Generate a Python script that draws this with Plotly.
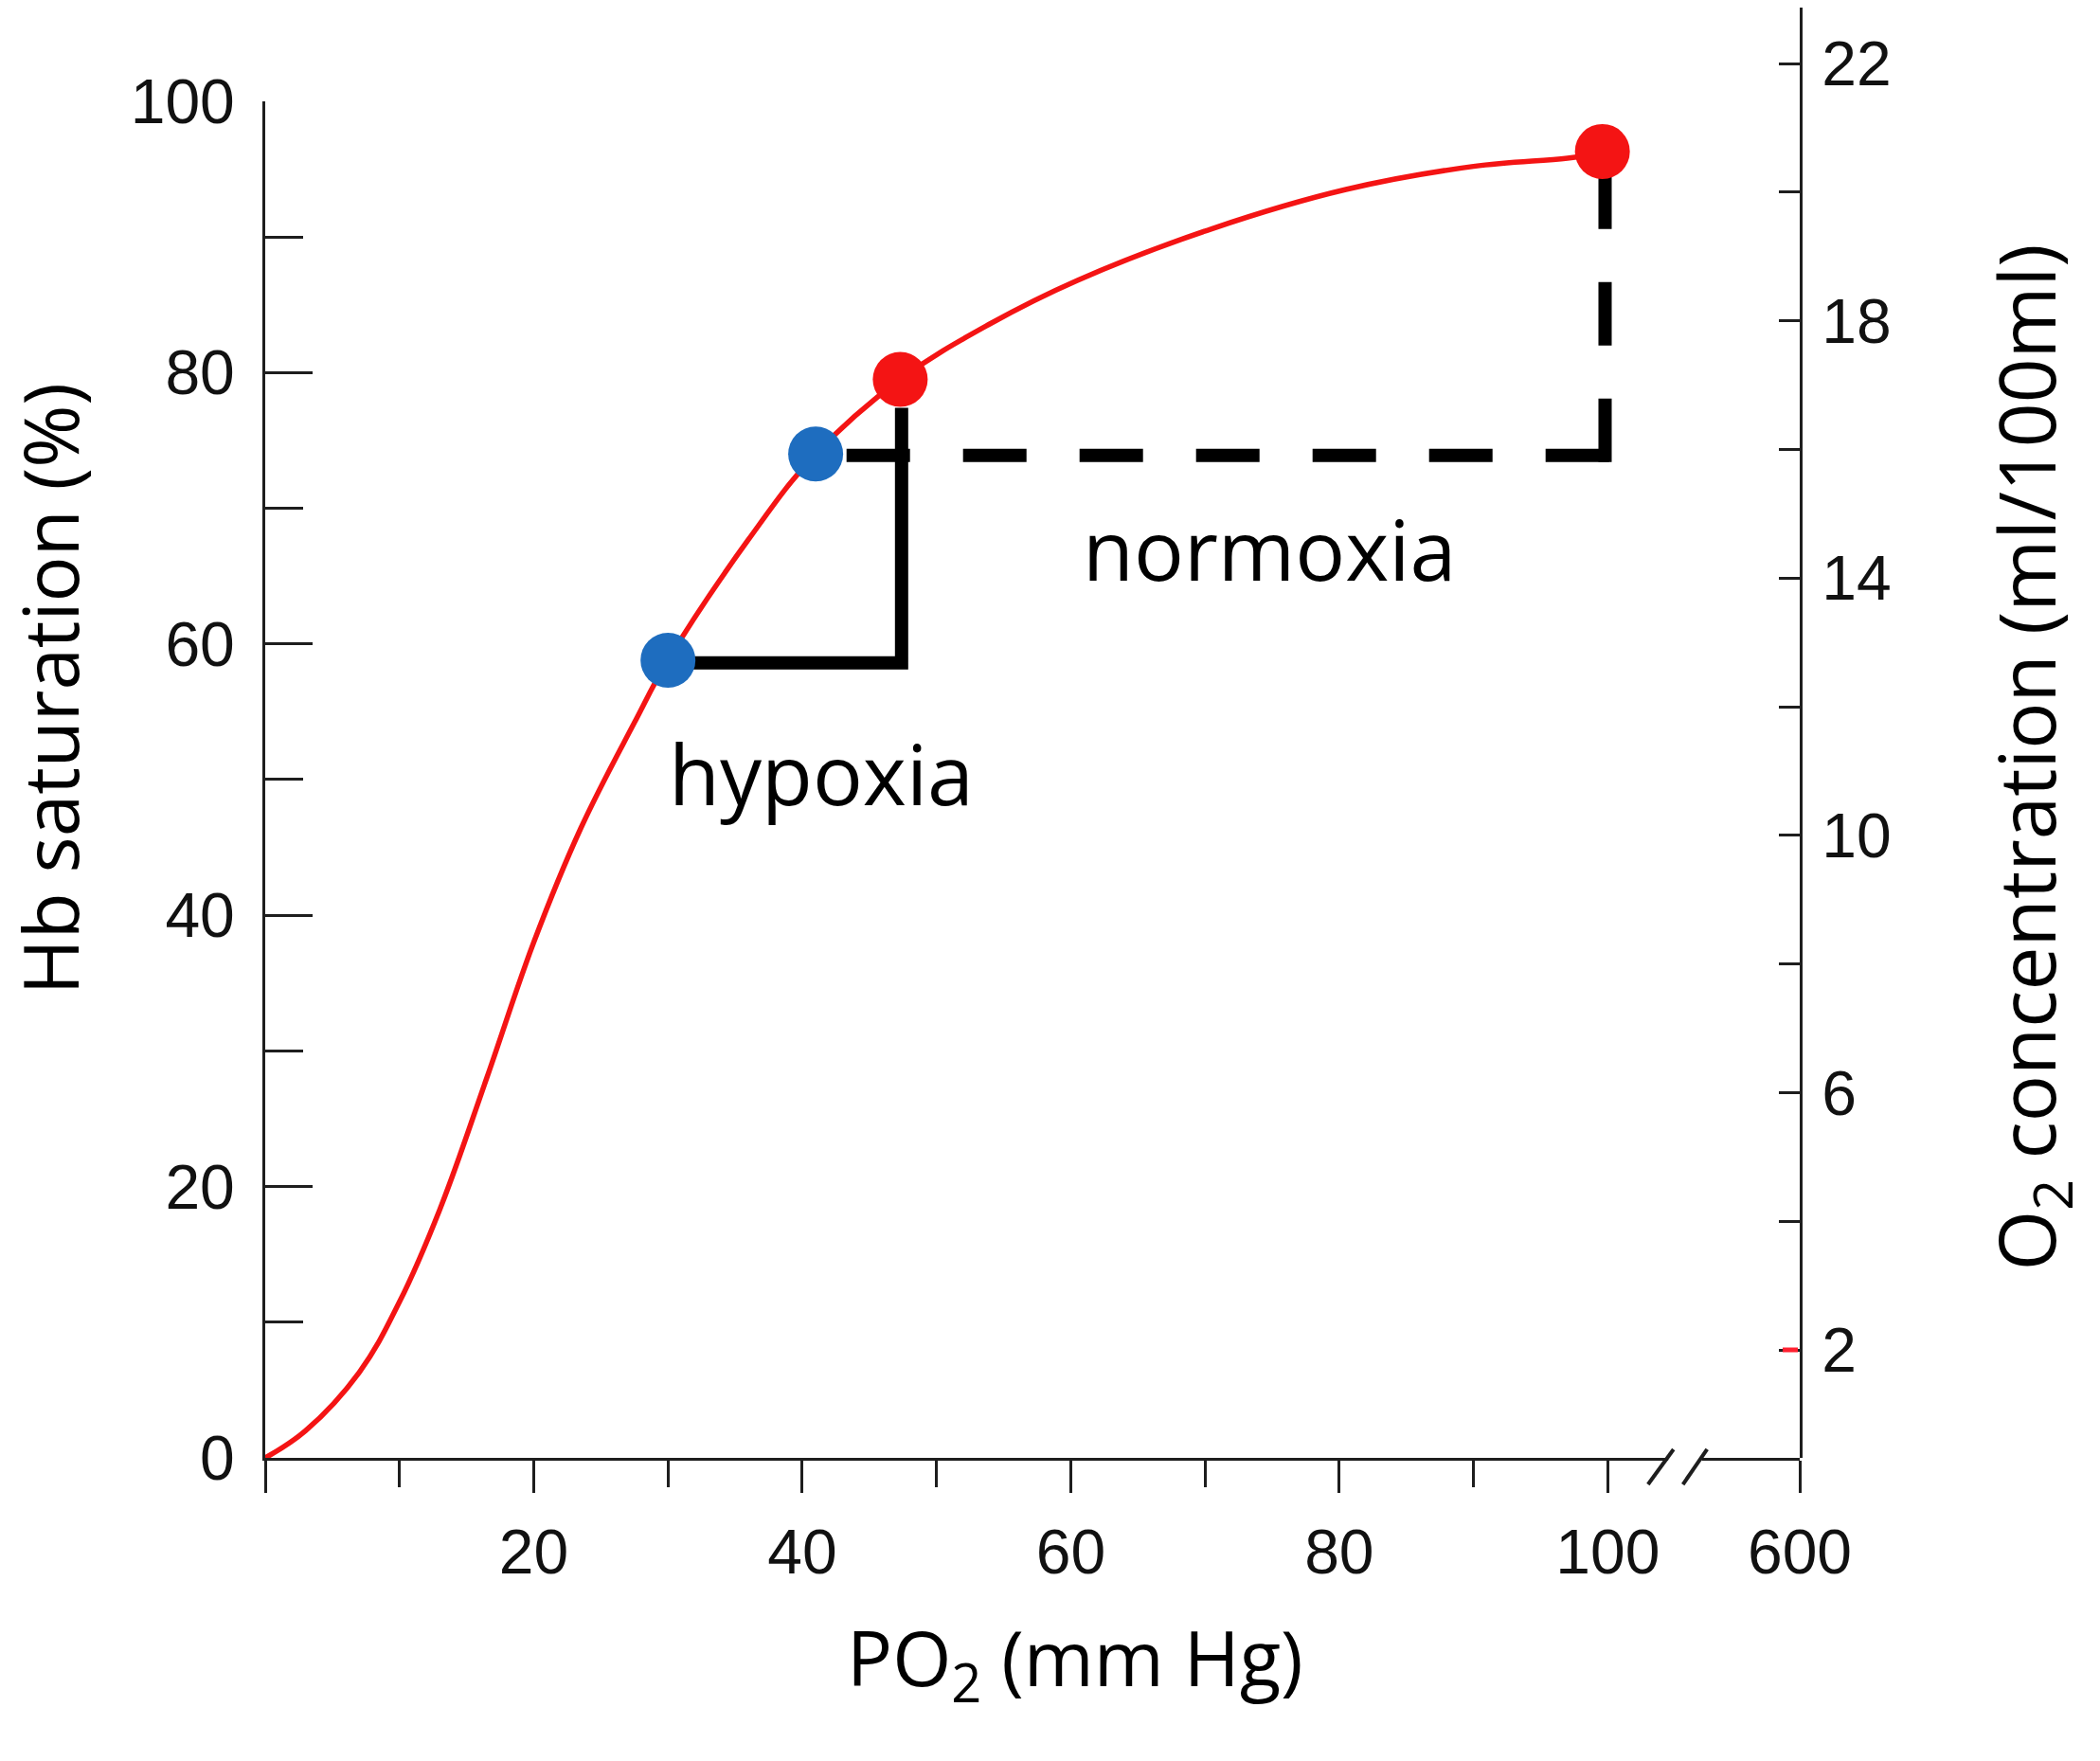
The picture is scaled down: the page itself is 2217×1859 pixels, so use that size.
# Oxygen-haemoglobin dissociation curve with hypoxia / normoxia markers
# Two y axes: Hb saturation (%) on the left, O2 concentration on the right.

import plotly.graph_objects as go

# --- data ---
po2 = [0, 3, 7, 10, 13, 16.5, 20, 23.5, 27.5, 30, 36, 41, 47.3, 54, 60.5, 70.5, 80.5, 90, 97, 100]
saturation = [0, 2, 6.3, 11.5, 18.3, 28, 38, 46.4, 54.2, 58.8, 67.7, 74, 79.5, 83.6, 86.8, 90.6, 93.5, 95.2, 95.8, 96.2]

# points on the curve
blue_x = [30, 41]
blue_y = [58.8, 74.0]
red_x = [47.3, 99.6]
red_y = [79.5, 96.3]

# hypoxia bracket (solid) and normoxia bracket (dashed)
hypoxia_x = [30, 47.4, 47.4]
hypoxia_y = [58.6, 58.6, 77.4]
normoxia_h_x = [43.3, 100.3]
normoxia_h_y = [73.9, 73.9]
normoxia_v_x = [99.8, 99.8]
normoxia_v_y = [73.4, 96.3]

# axis ticks
x_max = 114.3  # position of the "600" tick after the axis break
x_tickvals = [0, 20, 40, 60, 80, 100, x_max]
x_ticktext = ["", "20", "40", "60", "80", "100", "600"]
x_minor = [10, 30, 50, 70, 90]
y_tickvals = [0, 20, 40, 60, 80, 100]
y_minor = [10, 30, 50, 70, 90]
y2_tickvals = [2, 6, 10, 14, 18, 22]
y2_minor = [4, 8, 12, 16, 20]

RED = "#f41414"
BLUE = "#1e6dbf"
AXIS = "#1e1e1e"
TICK_FONT = dict(family="Liberation Sans, Arial, sans-serif", size=66, color="#111111")
TEXT_FONT = "Open Sans, sans-serif"

fig = go.Figure()

# the dissociation curve
fig.add_trace(go.Scatter(x=po2, y=saturation, mode="lines",
                         line=dict(color=RED, width=5.5, shape="spline", smoothing=1.1),
                         hoverinfo="skip"))

# brackets
fig.add_trace(go.Scatter(x=hypoxia_x, y=hypoxia_y, mode="lines",
                         line=dict(color="black", width=14)))
fig.add_trace(go.Scatter(x=normoxia_h_x, y=normoxia_h_y, mode="lines",
                         line=dict(color="black", width=14, dash="67px,56px")))
fig.add_trace(go.Scatter(x=normoxia_v_x, y=normoxia_v_y, mode="lines",
                         line=dict(color="black", width=14, dash="67px,56px")))

# dots on top
fig.add_trace(go.Scatter(x=blue_x, y=blue_y, mode="markers", cliponaxis=False,
                         marker=dict(color=BLUE, size=58, line=dict(width=0))))
fig.add_trace(go.Scatter(x=red_x, y=red_y, mode="markers", cliponaxis=False,
                         marker=dict(color=RED, size=58, line=dict(width=0))))

# empty trace so the right axis gets drawn
fig.add_trace(go.Scatter(x=[None], y=[None], yaxis="y2", showlegend=False))

# axis break "//" on the x axis (paper coords from data units)
def px(v):
    return v / x_max

shapes = [
    # white gap in the axis line between the slashes
    dict(type="rect", xref="paper", yref="paper", x0=px(104.5), x1=px(107.0),
         y0=-0.003, y1=0.003, fillcolor="white", line=dict(width=0), layer="above"),
    dict(type="line", xref="paper", yref="paper", x0=px(103.0), x1=px(104.9),
         y0=-0.0183, y1=0.0059, line=dict(color=AXIS, width=4)),
    dict(type="line", xref="paper", yref="paper", x0=px(105.6), x1=px(107.4),
         y0=-0.0183, y1=0.0059, line=dict(color=AXIS, width=4)),
    # the red tick at "2" on the right axis
    dict(type="line", xref="paper", yref="y2", x0=1 - 18 / 1620, x1=1 - 2 / 1620,
         y0=2, y1=2, line=dict(color="#ff2030", width=5)),
]

annotations = [
    dict(text="hypoxia", x=41.4, y=50.5, xref="x", yref="y", showarrow=False,
         font=dict(family=TEXT_FONT, size=88, color="black")),
    dict(text="normoxia", x=74.8, y=67.0, xref="x", yref="y", showarrow=False,
         font=dict(family=TEXT_FONT, size=88, color="black")),
    dict(text="Hb saturation (%)", x=-0.141, y=0.53, xref="paper", yref="paper",
         xanchor="center", yanchor="middle", textangle=-90, showarrow=False,
         font=dict(family=TEXT_FONT, size=80, color="black")),
    dict(text="PO<sub>2</sub> (mm Hg)", x=0.528, y=-0.180, xref="paper", yref="paper",
         xanchor="center", yanchor="bottom", showarrow=False,
         font=dict(family=TEXT_FONT, size=80, color="black")),
    dict(text="O<sub>2</sub> concentration (ml/100ml)", x=1.150, y=0.483,
         xref="paper", yref="paper", xanchor="center", yanchor="middle",
         textangle=-90, showarrow=False,
         font=dict(family=TEXT_FONT, size=82, color="black")),
]

# the page body has an 8px margin, so the figure is 16px smaller than the window
fig.update_layout(
    width=2201,
    height=1843,
    margin=dict(l=272, r=309, t=0, b=312, autoexpand=False),
    paper_bgcolor="white",
    plot_bgcolor="rgba(0,0,0,0)",
    showlegend=False,
    shapes=shapes,
    annotations=annotations,
    xaxis=dict(
        range=[0, x_max], showgrid=False, zeroline=False, automargin=False,
        showline=True, linecolor=AXIS, linewidth=3,
        tickvals=x_tickvals, ticktext=x_ticktext,
        ticks="outside", ticklen=34, tickwidth=3, tickcolor=AXIS,
        minor=dict(tickvals=x_minor, ticks="outside", ticklen=28, tickwidth=3, tickcolor=AXIS),
        tickfont=TICK_FONT, ticklabelstandoff=6,
    ),
    yaxis=dict(
        range=[0, 100], domain=[0, 0.9354], showgrid=False, zeroline=False, automargin=False,
        showline=True, linecolor=AXIS, linewidth=3,
        tickvals=y_tickvals, ticks="inside", ticklen=50, tickwidth=3, tickcolor=AXIS,
        minor=dict(tickvals=y_minor, ticks="inside", ticklen=40, tickwidth=3, tickcolor=AXIS),
        tickfont=TICK_FONT, ticklabelstandoff=16,
    ),
    yaxis2=dict(
        range=[0.321, 22.87], domain=[0, 1], anchor="x", side="right",
        showgrid=False, zeroline=False, automargin=False,
        showline=True, linecolor=AXIS, linewidth=3,
        tickvals=y2_tickvals, ticks="inside", ticklen=22, tickwidth=3, tickcolor=AXIS,
        minor=dict(tickvals=y2_minor, ticks="inside", ticklen=22, tickwidth=3, tickcolor=AXIS),
        tickfont=TICK_FONT, ticklabelstandoff=7,
    ),
)

fig.write_html("out.html")
